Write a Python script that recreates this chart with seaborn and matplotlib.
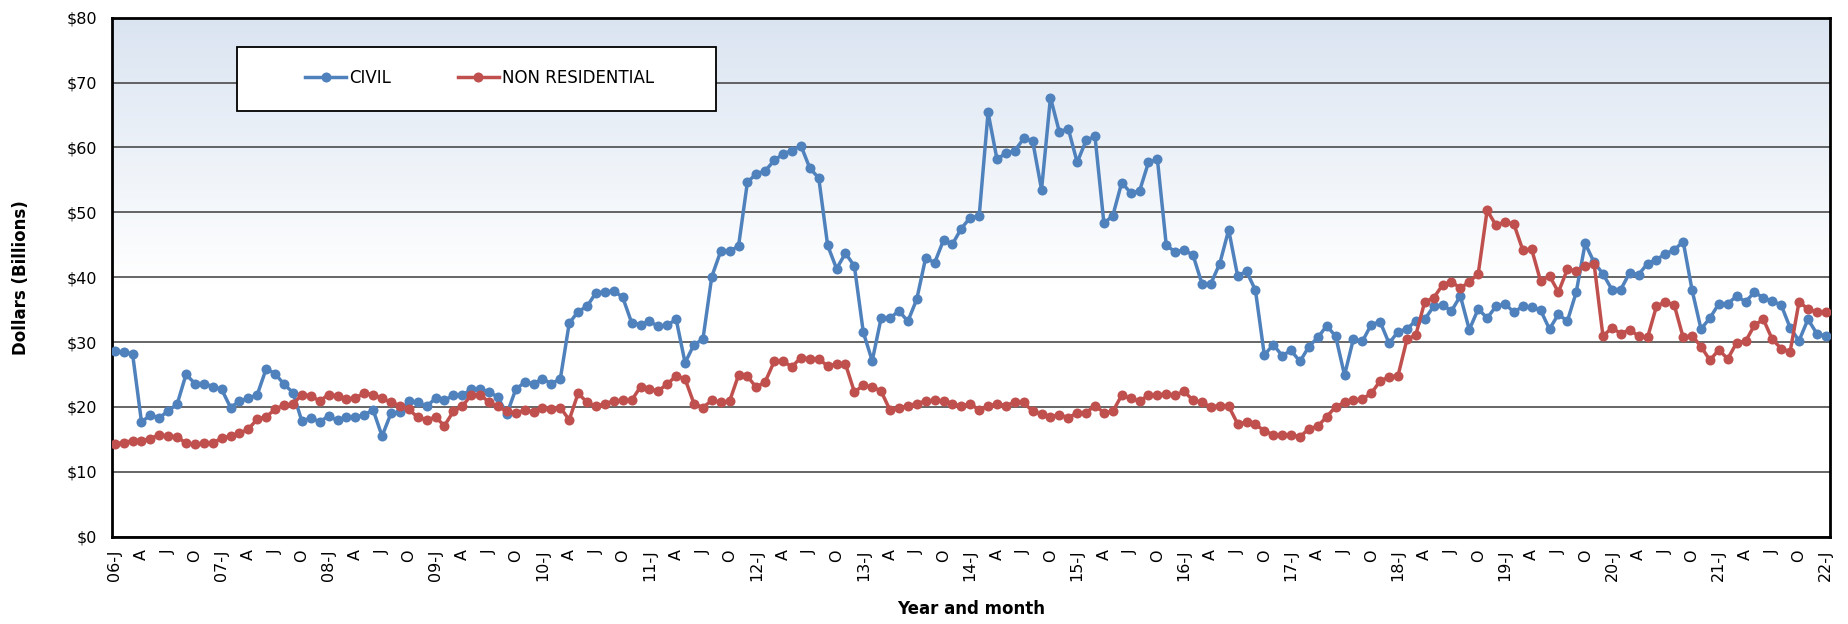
import numpy as np
import pandas as pd
import seaborn as sns
import matplotlib.pyplot as plt
from matplotlib.patches import Rectangle
from matplotlib.colors import to_rgb

# Monthly values, Jan 2006 .. Jan 2022 ($ billions)
civil = [
    28.6, 28.4, 28.2, 17.7, 18.7, 18.3, 19.4, 20.4, 25.0, 23.6, 23.6, 23.1,  # 2006
    22.7, 19.9, 20.9, 21.3, 21.9, 25.9, 25.1, 23.5, 22.2, 17.8, 18.3, 17.7,  # 2007
    18.6, 17.9, 18.4, 18.4, 18.8, 19.5, 15.5, 19.0, 19.2, 20.9, 20.7, 20.1,  # 2008
    21.3, 21.0, 21.8, 21.8, 22.7, 22.7, 22.3, 21.5, 18.9, 22.7, 23.8, 23.6,  # 2009
    24.3, 23.6, 24.3, 32.9, 34.7, 35.5, 37.6, 37.7, 37.9, 36.9, 33.0, 32.7,  # 2010
    33.2, 32.4, 32.6, 33.5, 26.8, 29.6, 30.4, 40.1, 44.0, 44.0, 44.8, 54.7,  # 2011
    55.9, 56.4, 58.0, 59.0, 59.5, 60.3, 56.8, 55.3, 44.9, 41.3, 43.7, 41.7,  # 2012
    31.5, 27.1, 33.7, 33.7, 34.8, 33.2, 36.6, 43.0, 42.2, 45.7, 45.1, 47.5,  # 2013
    49.2, 49.4, 65.4, 58.2, 59.1, 59.5, 61.4, 61.0, 53.5, 67.7, 62.4, 62.9,  # 2014
    57.7, 61.1, 61.7, 48.3, 49.5, 54.6, 53.0, 53.3, 57.7, 58.2, 44.9, 43.9,  # 2015
    44.2, 43.4, 39.0, 39.0, 42.1, 47.3, 40.2, 40.9, 38.0, 28.0, 29.6, 27.9,  # 2016
    28.7, 27.0, 29.3, 30.7, 32.5, 30.9, 24.9, 30.5, 30.1, 32.7, 33.1, 29.8,  # 2017
    31.6, 32.0, 33.3, 33.5, 35.5, 35.7, 34.8, 37.1, 31.9, 35.1, 33.7, 35.5,  # 2018
    35.9, 34.6, 35.5, 35.4, 34.9, 32.0, 34.3, 33.2, 37.7, 45.2, 42.3, 40.5,  # 2019
    38.1, 38.1, 40.7, 40.4, 42.1, 42.7, 43.6, 44.2, 45.5, 38.0, 32.0, 33.7,  # 2020
    35.9, 35.9, 37.1, 36.2, 37.7, 36.8, 36.3, 35.7, 32.2, 30.2, 33.5, 31.3,  # 2021
    30.9,                                                                    # 2022
]
non_residential = [
    14.3, 14.5, 14.8, 14.8, 15.1, 15.7, 15.5, 15.4, 14.4, 14.2, 14.4, 14.4,  # 2006
    15.2, 15.5, 15.9, 16.6, 18.1, 18.5, 19.6, 20.3, 20.4, 21.9, 21.7, 20.9,  # 2007
    21.9, 21.7, 21.2, 21.4, 22.1, 21.9, 21.3, 20.7, 20.2, 19.6, 18.4, 18.0,  # 2008
    18.4, 17.1, 19.3, 20.1, 21.8, 21.9, 20.7, 20.1, 19.3, 19.0, 19.5, 19.2,  # 2009
    19.9, 19.6, 19.9, 18.0, 22.1, 20.7, 20.1, 20.5, 20.9, 21.0, 21.0, 23.1,  # 2010
    22.7, 22.5, 23.5, 24.8, 24.3, 20.5, 19.9, 21.0, 20.7, 20.9, 24.9, 24.7,  # 2011
    23.0, 23.9, 27.0, 27.0, 26.2, 27.6, 27.4, 27.4, 26.3, 26.6, 26.6, 22.3,  # 2012
    23.3, 23.1, 22.4, 19.5, 19.8, 20.2, 20.5, 20.9, 21.0, 20.9, 20.5, 20.1,  # 2013
    20.5, 19.5, 20.1, 20.5, 20.2, 20.7, 20.7, 19.3, 18.9, 18.5, 18.8, 18.3,  # 2014
    19.1, 19.1, 20.2, 19.1, 19.3, 21.8, 21.3, 20.9, 21.8, 21.8, 22.0, 21.8,  # 2015
    22.4, 21.0, 20.7, 20.0, 20.2, 20.1, 17.4, 17.6, 17.3, 16.3, 15.7, 15.7,  # 2016
    15.7, 15.4, 16.6, 17.0, 18.5, 20.0, 20.7, 21.0, 21.2, 22.1, 24.0, 24.6,  # 2017
    24.8, 30.4, 31.1, 36.2, 36.8, 38.8, 39.3, 38.3, 39.3, 40.5, 50.3, 48.0,  # 2018
    48.5, 48.2, 44.2, 44.3, 39.4, 40.2, 37.7, 41.2, 41.0, 41.8, 42.1, 30.9,  # 2019
    32.2, 31.3, 31.9, 30.9, 30.7, 35.5, 36.2, 35.7, 30.7, 31.0, 29.3, 27.2,  # 2020
    28.8, 27.4, 29.9, 30.1, 32.6, 33.5, 30.4, 29.0, 28.5, 36.2, 35.1, 34.6,  # 2021
    34.6,                                                                    # 2022
]
series_names = ["CIVIL", "NON RESIDENTIAL"]
series_colors = ["#4F81BD", "#C0504D"]
quarter_letters = ["J", "A", "J", "O"]
y_ticks = list(range(0, 90, 10))

months = np.arange(len(civil))
tick_pos = months[::3]
tick_labels = [f"{(6 + m // 12):02d}-J" if m % 12 == 0 else quarter_letters[(m % 12) // 3]
               for m in tick_pos]

df = pd.DataFrame({"month": months, series_names[0]: civil, series_names[1]: non_residential})
long_df = df.melt(id_vars="month", var_name="series", value_name="value")

plt.rcParams["font.family"] = ["DejaVu Sans"]

fig = plt.figure(figsize=(18.49, 6.24), dpi=100)
ax = fig.add_subplot(111)
fig.subplots_adjust(left=0.0606, right=0.9897, top=0.9715, bottom=0.1401)

xlim = (-0.30, 192.47)
ylim = (0, 80)

# plot-area gradient: light blue at the top fading to white by $40
top_rgb = np.array(to_rgb("#DAE4F1"))
yy = np.linspace(80, 0, 400)
t = np.clip((yy - 39) / 41, 0, 1)[:, None]
grad = (1 - t) * np.ones(3) + t * top_rgb
ax.imshow(grad[:, None, :], extent=(xlim[0], xlim[1], 0, 80), aspect="auto",
          origin="upper", zorder=0, interpolation="bilinear")

sns.lineplot(data=long_df, x="month", y="value", hue="series", hue_order=series_names,
             palette=series_colors, marker="o", markersize=7.2, markeredgewidth=0,
             linewidth=2.5, legend=False, ax=ax, zorder=3)

ax.set_xlim(*xlim)
ax.set_ylim(*ylim)
ax.set_axisbelow(True)
ax.yaxis.grid(True, color="#3c3c3c", linewidth=1.1)
ax.xaxis.grid(False)

ax.set_yticks(y_ticks)
ax.set_yticklabels([f"${v}" for v in y_ticks], fontsize=11.5)
ax.set_xticks(tick_pos)
ax.set_xticklabels(tick_labels, rotation=90, fontsize=11.5)
ax.tick_params(axis="both", length=0)
ax.tick_params(axis="x", pad=9)
ax.tick_params(axis="y", pad=11)

for sp in ax.spines.values():
    sp.set_visible(True)
    sp.set_color("black")
    sp.set_linewidth(2.0)

ax.set_ylabel("Dollars (Billions)", fontsize=12, fontweight="bold")
ax.yaxis.set_label_coords(-0.0477, 0.5)
ax.set_xlabel("Year and month", fontsize=12, fontweight="bold")
ax.xaxis.set_label_coords(0.5, -0.123)

# legend box
ax.add_patch(Rectangle((0.0729, 0.8195), 0.2786, 0.1241, transform=ax.transAxes,
                       facecolor="white", edgecolor="black", linewidth=1.3, zorder=4))
handles = ax.get_lines()[:2]
ax.legend(handles, series_names, loc="center left", bbox_to_anchor=(0.1123, 0.8838),
          ncol=2, frameon=False, fontsize=12, borderpad=0, borderaxespad=0,
          handlelength=2.49, handletextpad=0.15, columnspacing=4.0, numpoints=1)

fig.savefig("out.png", dpi=100)
